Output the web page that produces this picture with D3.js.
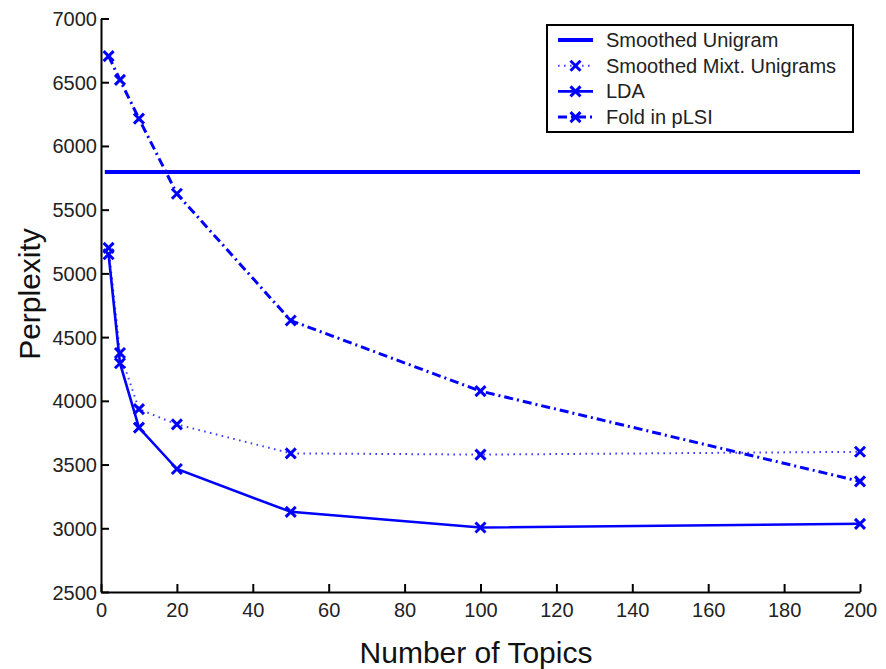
<!DOCTYPE html>
<html>
<head>
<meta charset="utf-8">
<script src="https://cdn.jsdelivr.net/npm/d3@7"></script>
<style>
  body { margin: 0; background: #fff; }
  svg { display: block; font-family: "Liberation Sans", Arial, Helvetica, sans-serif; }
</style>
</head>
<body>
<div id="chart"></div>
<script>
// topics on x axis
var topics = [2, 5, 10, 20, 50, 100, 200];
var unigram = 5795;
var unigramRange = [1, 200];
var mixtUnigrams = [5200, 4375, 3935, 3815, 3588, 3578, 3600];
var lda = [5150, 4295, 3790, 3465, 3129, 3006, 3035];
var foldInPlsi = [6705, 6518, 6214, 5625, 4630, 4076, 3368];
var xTicks = [0, 20, 40, 60, 80, 100, 120, 140, 160, 180, 200];
var yTicks = [2500, 3000, 3500, 4000, 4500, 5000, 5500, 6000, 6500, 7000];
var legendNames = ["Smoothed Unigram", "Smoothed Mixt. Unigrams", "LDA", "Fold in pLSI"];

var WIDTH = 886, HEIGHT = 669;
var BLUE = "#0000ff";

var svg = d3.select("#chart").append("svg")
    .attr("width", WIDTH)
    .attr("height", HEIGHT);

var x = d3.scaleLinear().domain([0, 200]).range([101, 860]);
var y = d3.scaleLinear().domain([2500, 7000]).range([592, 18.5]);

// axes: only left and bottom, ticks point inward
var xAxis = d3.axisBottom(x).tickValues(xTicks).tickFormat(d3.format("d"))
    .tickSizeInner(-8).tickSizeOuter(0);
var yAxis = d3.axisLeft(y).tickValues(yTicks).tickFormat(d3.format("d"))
    .tickSizeInner(-8).tickSizeOuter(0);

var gx = svg.append("g").attr("transform", "translate(0," + y(2500) + ")").call(xAxis);
var gy = svg.append("g").attr("transform", "translate(" + x(0) + ",0)").call(yAxis);

[gx, gy].forEach(function(g) {
    g.select(".domain").attr("stroke", "#000").attr("stroke-width", 2);
    g.selectAll(".tick line").attr("stroke", "#000").attr("stroke-width", 2);
    g.selectAll(".tick text").attr("fill", "#222").style("font-size", "20px");
});
gx.selectAll(".tick text").attr("dy", "0.75em").attr("y", 10);
gy.selectAll(".tick text").attr("x", -4).attr("dy", "0.35em");

// axis titles
svg.append("text")
    .attr("x", 476).attr("y", 663)
    .attr("text-anchor", "middle")
    .style("font-size", "30px")
    .attr("fill", "#111")
    .text("Number of Topics");

svg.append("text")
    .attr("transform", "translate(40,294) rotate(-90)")
    .attr("text-anchor", "middle")
    .style("font-size", "30px")
    .attr("fill", "#111")
    .text("Perplexity");

var line = d3.line()
    .x(function(d) { return x(d[0]); })
    .y(function(d) { return y(d[1]); });

function pair(vals) {
    return topics.map(function(t, i) { return [t, vals[i]]; });
}

var series = [
    { name: legendNames[1], values: mixtUnigrams, dash: "1.6,4.4", width: 2, opacity: 0.75 },
    { name: legendNames[2], values: lda, dash: null, width: 2.6, opacity: 1 },
    { name: legendNames[3], values: foldInPlsi, dash: "9,4,2,4", width: 3, opacity: 1 }
];

// smoothed unigram, flat line
svg.append("path")
    .datum(unigramRange.map(function(t) { return [t, unigram]; }))
    .attr("d", line)
    .attr("fill", "none")
    .attr("stroke", BLUE)
    .attr("stroke-width", 4);

function cross(g, cx, cy, r) {
    g.append("path")
        .attr("d", "M" + (cx - r) + "," + (cy - r) + "L" + (cx + r) + "," + (cy + r) +
                   "M" + (cx - r) + "," + (cy + r) + "L" + (cx + r) + "," + (cy - r))
        .attr("stroke", BLUE)
        .attr("stroke-width", 3)
        .attr("fill", "none");
}

series.forEach(function(s) {
    var g = svg.append("g");
    g.append("path")
        .datum(pair(s.values))
        .attr("d", line)
        .attr("fill", "none")
        .attr("stroke", BLUE)
        .attr("stroke-opacity", s.opacity)
        .attr("stroke-width", s.width)
        .attr("stroke-dasharray", s.dash);
    pair(s.values).forEach(function(d) {
        cross(g, x(d[0]), y(d[1]), 5);
    });
});

// legend
var legend = svg.append("g");
legend.append("rect")
    .attr("x", 547).attr("y", 25)
    .attr("width", 306).attr("height", 107)
    .attr("fill", "#fff")
    .attr("stroke", "#000")
    .attr("stroke-width", 2);

var legendStyles = [
    { dash: null, width: 4, marker: false, opacity: 1 },
    { dash: "1.6,4.4", width: 2, marker: true, opacity: 0.75 },
    { dash: null, width: 2.6, marker: true, opacity: 1 },
    { dash: "9,4,2,4", width: 3, marker: true, opacity: 1 }
];

legendNames.forEach(function(name, i) {
    var cy = 40 + i * 25.7;
    var st = legendStyles[i];
    legend.append("line")
        .attr("x1", 558).attr("x2", 593)
        .attr("y1", cy).attr("y2", cy)
        .attr("stroke", BLUE)
        .attr("stroke-opacity", st.opacity)
        .attr("stroke-width", st.width)
        .attr("stroke-dasharray", st.dash);
    if (st.marker) cross(legend, 575.5, cy, 5);
    legend.append("text")
        .attr("x", 606).attr("y", cy)
        .attr("dy", "0.35em")
        .style("font-size", "20px")
        .attr("fill", "#222")
        .text(name);
});
</script>
</body>
</html>
